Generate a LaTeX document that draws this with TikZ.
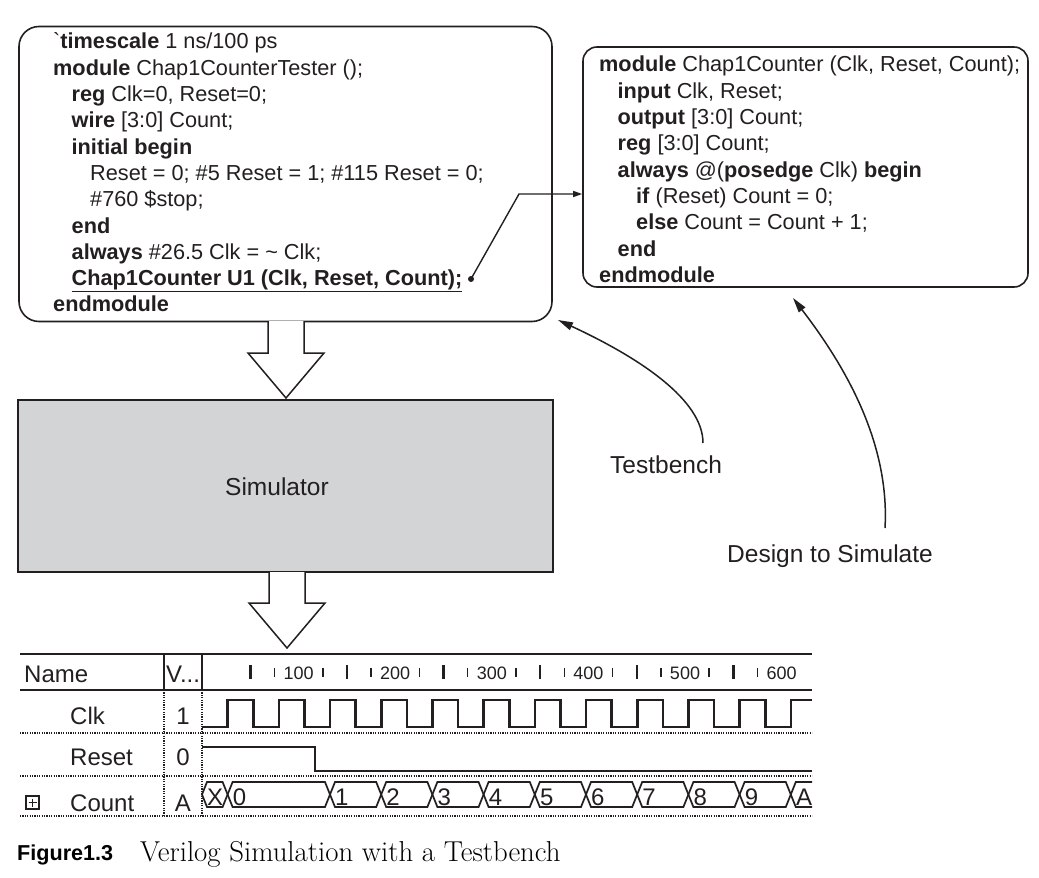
\documentclass[tikz,border=0pt]{standalone}
\usepackage{fontspec}
\newfontfamily\arialfont{Liberation Sans}
\usetikzlibrary{arrows.meta, positioning}

\definecolor{ink}{RGB}{35,31,32}
\definecolor{simgray}{RGB}{211,212,214}
\newcommand\codeindent{\hspace*{18.5pt}}

\tikzset{
  codebox/.style={draw=ink, line width=1.6pt, inner sep=0pt},
  code/.style={font=\arialfont\fontsize{21.7}{26.3}\selectfont, align=left,
    inner sep=0pt, anchor=north west, text=ink},
  txt/.style={font=\arialfont\fontsize{24.5}{28}\selectfont, inner sep=0pt,
    anchor=base west, text=ink},
  tabtxt/.style={font=\arialfont\fontsize{24}{28}\selectfont, inner sep=0pt,
    anchor=base west, text=ink},
  ticktxt/.style={font=\arialfont\fontsize{18}{20}\selectfont, inner sep=0pt,
    anchor=base, text=ink},
  hollow/.style={draw=ink, line width=1.5pt, fill=white, line join=miter},
  pointer/.style={draw=ink, line width=1.5pt, -{Triangle[length=15pt,width=8pt]}},
  link/.style={draw=ink, line width=1.4pt, -{Triangle[length=9pt,width=6pt]}},
  wave/.style={draw=ink, line width=2.6pt, line join=miter},
  bus/.style={draw=ink, line width=1.7pt, line join=miter},
  solidrule/.style={draw=ink, line width=2pt},
  dotrule/.style={draw=ink, line width=1.6pt, dash pattern=on 1.2pt off 1.2pt},
}

\begin{document}
\begin{tikzpicture}[x=1pt, y=-1pt]
\useasboundingbox (0,0) rectangle (1039,878);

% testbench code
\node[codebox, rounded corners=20pt, minimum width=533pt, minimum height=295pt]
  (tbbox) at (285.5,174) {};
\node[code] (tbcode) at (53,28.7) {\rule{0pt}{20pt}\textasciigrave\textbf{timescale} 1 ns/100 ps\\
  \textbf{module} Chap1CounterTester ();\\
  \codeindent\textbf{reg} Clk=0, Reset=0;\\
  \codeindent\textbf{wire} [3:0] Count;\\
  \codeindent\textbf{initial begin}\\
  \codeindent\codeindent Reset = 0; \#5 Reset = 1; \#115 Reset = 0;\\
  \codeindent\codeindent\#760 \$stop;\\
  \codeindent\textbf{end}\\
  \codeindent\textbf{always} \#26.5 Clk = \textasciitilde\ Clk;\\
  \codeindent\underline{\textbf{Chap1Counter U1 (Clk, Reset, Count);}}\\
  \textbf{endmodule}};

% design code
\node[codebox, rounded corners=14pt, minimum width=445pt, minimum height=240pt]
  (dutbox) at (805.5,167) {};
\node[code] (dutcode) at (599,51.7) {\rule{0pt}{20pt}\textbf{module} Chap1Counter (Clk, Reset, Count);\\
  \codeindent\textbf{input} Clk, Reset;\\
  \codeindent\textbf{output} [3:0] Count;\\
  \codeindent\textbf{reg} [3:0] Count;\\
  \codeindent\textbf{always} @(\textbf{posedge} Clk) \textbf{begin}\\
  \codeindent\codeindent\textbf{if} (Reset) Count = 0;\\
  \codeindent\codeindent\textbf{else} Count = Count + 1;\\
  \codeindent\textbf{end}\\
  \textbf{endmodule}};

% instance -> module
\coordinate (inst) at (471,279);
\coordinate (bend) at (519,194);
\fill[ink] (inst) circle (3pt);
\draw[link] (inst) -- (bend) -- (bend -| dutbox.west);

% simulator
\node[draw=ink, line width=1.6pt, fill=simgray, minimum width=535pt, minimum height=172pt]
  (sim) at (285.5,486) {};
\node[txt] (simtxt) at (225,495) {Simulator};

\draw[hollow] (268,321) -- (268,353) -- (248,353) -- (286,398) -- (324,353) -- (304,353) -- (304,321);
\draw[hollow] (269,572) -- (269,603) -- (249,603) -- (287,648) -- (325,603) -- (305,603) -- (305,572);

% callouts
\node[txt] (tbtxt) at (610,473) {Testbench};
\node[txt] (duttxt) at (727,562) {Design to Simulate};
\coordinate (tbfrom) at (703,443);
\coordinate (tbto) at (558,320);
\coordinate (dutfrom) at (885,528);
\coordinate (dutto) at (793,298);
\draw[pointer] (tbfrom) .. controls (703,400) and (640,358) .. (tbto);
\draw[pointer] (dutfrom) .. controls (890,440) and (842,362) .. (dutto);

% waveform table
\draw[solidrule] (20,654) -- (812,654);
\draw[solidrule] (20,690) -- (812,690);
\draw[solidrule] (164,654) -- (164,690);
\draw[solidrule] (202,654) -- (202,690);
\draw[dotrule] (164,690) -- (164,816);
\draw[dotrule] (202,690) -- (202,816);
\foreach \y in {733,776,816}
  \draw[dotrule] (20,\y) -- (812,\y);

\node[tabtxt] (hname) at (24,682) {Name};
\node[tabtxt] (hval) at (166,682) {V...};
\node[tabtxt] (nclk) at (70,724) {Clk};
\node[tabtxt] (nrst) at (70,765) {Reset};
\node[tabtxt] (ncnt) at (70,811) {Count};
\node[tabtxt, anchor=base] (vclk) at (183,724) {1};
\node[tabtxt, anchor=base] (vrst) at (183,765) {0};
\node[tabtxt, anchor=base] (vcnt) at (183,811) {A};
\draw[ink, line width=1.4pt] (26,796) rectangle (39,809);
\draw[ink, line width=1.4pt] (32.5,798.5) -- (32.5,806.5) (28.5,802.5) -- (36.5,802.5);

% time axis
\foreach \t in {50,150,...,550}
  \draw[ink, line width=2.4pt] ({202+0.966*\t},665) -- ({202+0.966*\t},679);
\foreach \t in {75,125,...,575}
  \draw[ink, line width=1.5pt] ({202+0.966*\t},668) -- ({202+0.966*\t},677);
\foreach \t in {100,200,...,600}
  \node[ticktxt] (t\t) at ({202+0.966*\t},679) {\t};

% Clk
\draw[wave] (202,727) \foreach \k [evaluate=\k as \r using 202+25.6*(2*\k+1),
    evaluate=\k as \f using 202+25.6*(2*\k+2)] in {0,...,10}
  { -- (\r,727) -- (\r,700) -- (\f,700) -- (\f,727) }
  -- (790.8,727) -- (790.8,700) -- (812,700);

% Reset
\draw[wave] (202,747) -- (315,747) -- (315,771) -- (812,771);

% Count
\foreach \a/\b/\v in {202/227.6/X, 227.6/330/0, 330/381.2/1, 381.2/432.4/2,
    432.4/483.6/3, 483.6/534.8/4, 534.8/586/5, 586/637.2/6, 637.2/688.4/7,
    688.4/739.6/8, 739.6/790.8/9} {
  \draw[bus] (\a,794.5) -- ({\a+5},782) -- ({\b-5},782) -- (\b,794.5)
    -- ({\b-5},807) -- ({\a+5},807) -- cycle;
  \node[tabtxt] (cnt\v) at ({\a+5},805) {\v};
}
\draw[bus] (812,782) -- (795.8,782) -- (790.8,794.5) -- (795.8,807) -- (812,807);
\node[tabtxt] (cntA) at (795.8,805) {A};

% caption
\node[anchor=base west, inner sep=0pt, font=\arialfont\bfseries\fontsize{21.6}{26}\selectfont]
  (fignum) at (17,860) {Figure1.3};
\node[anchor=base west, inner sep=0pt, font=\rmfamily\fontsize{28.8}{33}\selectfont]
  (figtitle) at (140,861) {Verilog Simulation with a Testbench};
\end{tikzpicture}
\end{document}
